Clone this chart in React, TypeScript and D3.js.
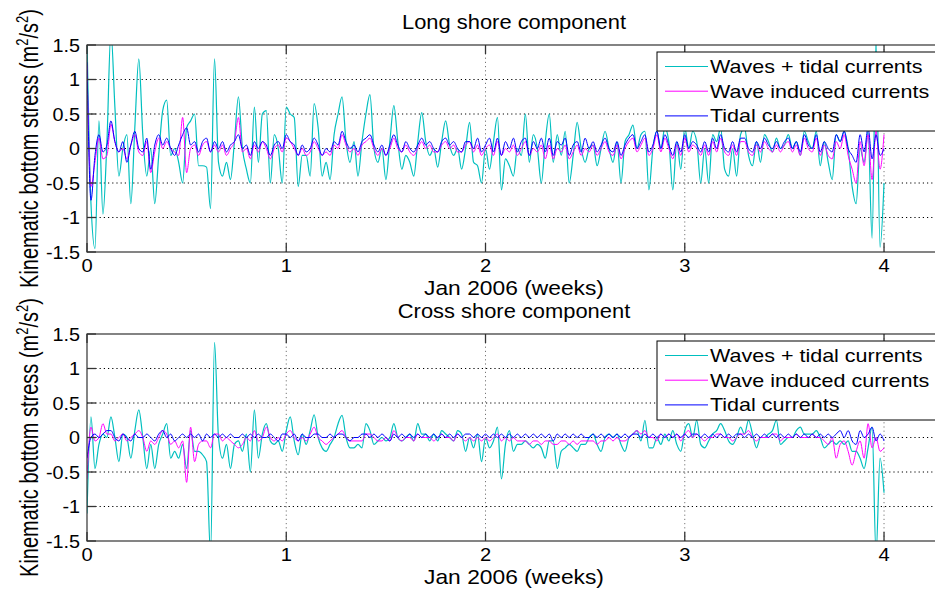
import React from 'react';
import * as d3 from 'd3';

// sampling step of the series (weeks)
const STEP = 0.02;

const xTicks = [0, 1, 2, 3, 4];
const yTicks = [-1.5, -1, -0.5, 0, 0.5, 1, 1.5];
const yGrid = [-1, -0.5, 0, 0.5, 1];
const xGrid = [1, 2, 3, 4];

const legendLabels = ['Waves + tidal currents', 'Wave induced currents', 'Tidal currents'];
const seriesColors = ['#00bfbf', '#ff00ff', '#0000ff'];

// Long shore component
const longWaveTidal = [
  1.6, -0.8, -1.45, 0.4, -0.95, 0.1, 1.7, 0.6, -0.4, 0.0,
  0.2, -0.8, 0.3, 1.3, 0.2, -0.4, 0.0, -0.8, -0.1, 0.55,
  0.7, -0.1, 0.0, -0.2, -0.5, 0.3, 0.4, 0.5, -0.25, -0.25,
  -0.27, -0.87, 1.3, -0.2, -0.4, -0.2, -0.45, 0.1, 0.75, 0.0,
  -0.3, -0.5, 0.6, -0.2, 0.5, 0.55, -0.5, 0.2, 0.0, -0.5,
  0.6, 0.5, 0.45, -0.55, -0.1, -0.1, -0.4, 0.65, 0.3, -0.4,
  -0.2, -0.45, 0.2, 0.5, 0.75, 0.1, -0.2, 0.1, -0.4, 0.1,
  0.5, 0.78, 0.0, -0.2, 0.0, -0.45, 0.1, 0.62, 0.1, -0.3,
  -0.1, -0.2, -0.4, 0.1, 0.52, 0.1, -0.1, 0.0, -0.27, 0.1,
  0.4, 0.05, -0.1, 0.0, -0.3, 0.0, 0.38, -0.2, -0.25, -0.5,
  0.0, -0.3, 0.1, 0.45, -0.6, -0.15, -0.25, -0.4, 0.0, -0.1,
  0.5, -0.2, 0.2, 0.0, -0.5, 0.1, 0.5, -0.2, 0.2, -0.1,
  0.25, -0.5, -0.1, 0.38, 0.0, -0.2, 0.0, 0.05, -0.25, 0.0,
  0.25, 0.0, -0.2, 0.1, -0.5, 0.1, 0.2, 0.34, 0.0, 0.2,
  0.25, -0.6, 0.0, 0.25, 0.0, 0.3, 0.1, -0.6, 0.1, -0.3,
  0.3, 0.0, 0.25, 0.1, -0.5, 0.0, -0.5, 0.2, 0.1, 0.3,
  -0.3, -0.4, 0.0, -0.4, 0.2, 0.3, -0.1, -0.25, 0.1, -0.2,
  0.2, 0.1, -0.05, 0.15, 0.0, 0.05, 0.2, 0.0, 0.1, -0.1,
  0.25, 0.1, 0.0, 0.25, -0.25, 0.1, -0.2, -0.45, 0.2, 0.1,
  0.25, 0.0, -0.55, -0.8, 0.0, -0.2, 0.25, -1.3, 1.6, -1.43,
  -0.5,
];

const longWaveInduced = [
  1.2, -0.55, -0.2, 0.15, -0.15, -0.1, 0.35, 0.1, -0.05, 0.0,
  -0.15, 0.05, 0.2, -0.05, -0.1, 0.1, -0.35, -0.05, 0.15, 0.0,
  0.1, 0.0, -0.05, -0.1, 0.45, -0.35, 0.0, 0.05, -0.1, 0.05,
  0.1, -0.05, 0.05, -0.05, 0.05, -0.1, 0.0, 0.1, 0.45, -0.05,
  0.0, -0.15, 0.05, -0.05, 0.1, 0.0, -0.15, 0.0, 0.05, -0.05,
  0.15, 0.1, 0.0, -0.1, 0.0, -0.1, -0.05, 0.1, 0.0, -0.1,
  -0.05, -0.1, 0.05, 0.0, 0.2, 0.05, -0.05, 0.0, -0.1, 0.05,
  0.1, 0.15, 0.0, -0.1, 0.0, -0.1, 0.0, 0.15, 0.0, -0.05,
  0.05, -0.05, -0.1, 0.0, 0.1, 0.0, 0.05, -0.05, -0.05, 0.05,
  0.1, 0.0, 0.05, -0.05, -0.05, 0.05, 0.1, -0.05, 0.05, -0.1,
  0.0, 0.05, -0.1, 0.1, -0.1, 0.0, -0.05, 0.05, -0.1, 0.0,
  0.1, -0.1, 0.0, -0.05, 0.05, -0.15, 0.05, -0.15, 0.0, -0.05,
  0.05, -0.15, -0.05, 0.05, -0.1, 0.0, -0.05, 0.05, -0.1, 0.0,
  0.1, -0.05, -0.1, 0.05, -0.15, 0.0, 0.1, 0.15, -0.05, 0.05,
  0.15, -0.1, 0.0, 0.2, -0.05, 0.15, 0.0, -0.15, 0.05, -0.1,
  0.15, -0.05, 0.05, 0.0, -0.1, 0.05, -0.1, 0.1, -0.05, 0.15,
  -0.05, -0.1, 0.05, -0.1, 0.1, 0.1, -0.05, -0.1, 0.05, -0.05,
  0.1, 0.0, -0.05, 0.05, -0.05, 0.05, 0.1, -0.05, 0.05, -0.1,
  0.15, 0.0, -0.05, 0.15, -0.1, 0.05, -0.1, -0.15, 0.1, 0.0,
  0.2, -0.1, -0.3, -0.5, 0.1, -0.25, 0.2, -0.45, 0.25, -0.3,
  0.2,
];

const longTidal = [
  1.25, -0.75, -0.1, 0.2, -0.05, 0.05, 0.4, 0.1, -0.05, 0.1,
  -0.2, 0.05, 0.25, 0.0, -0.05, 0.15, -0.3, 0.05, 0.2, 0.05,
  0.15, 0.0, -0.1, 0.05, 0.2, 0.3, 0.05, 0.1, -0.05, 0.1,
  0.15, -0.05, 0.1, 0.0, 0.1, -0.05, 0.05, 0.1, 0.2, 0.0,
  0.05, -0.1, 0.1, 0.0, 0.1, 0.05, -0.1, 0.05, 0.1, 0.0,
  0.2, 0.1, 0.05, -0.1, 0.05, -0.05, 0.0, 0.15, 0.05, -0.1,
  0.0, -0.05, 0.1, 0.05, 0.25, 0.1, 0.0, 0.05, -0.05, 0.1,
  0.15, 0.2, 0.05, -0.05, 0.05, -0.1, 0.05, 0.2, 0.05, -0.05,
  0.1, 0.0, -0.05, 0.05, 0.15, 0.05, 0.1, 0.0, -0.05, 0.1,
  0.15, 0.05, 0.1, 0.0, -0.05, 0.1, 0.1, 0.0, 0.15, -0.05,
  0.05, 0.15, -0.05, 0.15, -0.1, 0.1, 0.0, 0.15, -0.05, 0.1,
  0.15, -0.1, 0.1, 0.0, 0.15, -0.05, 0.15, -0.1, 0.1, 0.05,
  0.15, -0.1, 0.05, 0.1, -0.05, 0.15, 0.0, 0.1, -0.05, 0.05,
  0.15, 0.0, -0.05, 0.1, -0.1, 0.05, 0.15, 0.2, 0.0, 0.1,
  0.2, -0.05, 0.05, 0.25, 0.0, 0.2, 0.05, -0.1, 0.1, -0.05,
  0.2, 0.0, 0.1, 0.05, -0.05, 0.1, -0.05, 0.15, 0.0, 0.2,
  0.0, -0.05, 0.1, -0.05, 0.15, 0.15, 0.0, -0.05, 0.1, 0.0,
  0.15, 0.05, 0.0, 0.1, 0.0, 0.1, 0.15, 0.0, 0.1, -0.05,
  0.2, 0.05, 0.0, 0.2, -0.05, 0.1, 0.0, -0.05, 0.2, 0.1,
  0.25, 0.0, -0.1, -0.2, 0.2, -0.05, 0.3, -0.15, 0.2, -0.1,
  0.0,
];

// Cross shore component
const crossWaveTidal = [
  -1.1, 0.3, -0.45, -0.1, 0.05, 0.0, 0.3, 0.0, -0.35, 0.05,
  0.0, -0.3, 0.1, 0.4, 0.0, -0.45, -0.1, -0.45, -0.1, 0.05,
  0.2, -0.3, -0.2, -0.3, -0.1, -0.45, 0.1, -0.2, -0.2, -0.25,
  -0.35, -1.7, 1.38, 0.0, -0.3, -0.1, -0.45, -0.1, -0.05, -0.2,
  0.05, -0.5, 0.4, -0.3, 0.05, 0.2, -0.05, -0.1, -0.05, -0.2,
  0.1, 0.3, -0.05, -0.25, 0.05, -0.1, 0.1, 0.33, 0.0, -0.15,
  -0.2, -0.1, 0.0, 0.2, 0.32, 0.0, -0.15, -0.15, -0.1, -0.15,
  0.2, 0.1, -0.1, -0.05, 0.0, -0.05, 0.0, 0.2, 0.0, -0.05,
  0.0, 0.05, -0.05, 0.2, 0.05, 0.05, -0.05, 0.05, -0.05, 0.1,
  0.05, 0.0, -0.05, 0.1, 0.05, -0.2, 0.0, -0.15, 0.05, -0.35,
  0.0, -0.15, -0.05, 0.15, -0.6, -0.1, 0.1, -0.2, -0.1, -0.1,
  -0.05, -0.1, -0.15, -0.1, -0.15, -0.3, -0.05, -0.05, -0.45, -0.2,
  -0.15, -0.1, -0.15, -0.2, -0.1, -0.1, 0.0, 0.05, -0.1, -0.2,
  0.0, 0.05, 0.0, 0.05, -0.1, -0.2, 0.0, 0.05, 0.1, -0.05,
  0.25, -0.15, -0.15, 0.0, -0.1, 0.05, -0.05, 0.1, -0.1, -0.2,
  0.1, 0.2, 0.0, 0.25, -0.1, -0.15, -0.05, 0.05, 0.1, 0.2,
  0.1, -0.05, -0.1, 0.0, 0.15, 0.05, 0.25, 0.05, -0.15, 0.0,
  0.0, 0.05, 0.1, 0.25, -0.1, -0.05, 0.0, 0.0, 0.1, 0.15,
  0.05, 0.05, 0.05, 0.1, 0.0, -0.15, -0.1, -0.05, -0.1, -0.05,
  -0.1, -0.05, -0.2, -0.2, -0.3, -0.45, -0.15, 0.15, -1.7, -0.3,
  -0.8,
];

const crossWaveInduced = [
  -0.6, 0.15, -0.05, 0.0, 0.2, 0.05, 0.05, -0.05, 0.0, 0.05,
  -0.05, 0.0, 0.05, 0.1, 0.0, -0.2, -0.05, -0.1, 0.0, 0.1,
  0.05, -0.1, -0.05, -0.15, -0.05, -0.65, 0.15, -0.35, -0.1, -0.05,
  -0.05, -0.15, 0.05, 0.05, -0.05, 0.0, -0.05, -0.1, -0.15, -0.1,
  0.0, -0.05, 0.1, -0.05, 0.0, 0.15, 0.0, -0.05, 0.0, -0.05,
  0.05, 0.1, 0.0, -0.05, 0.0, -0.05, 0.05, 0.15, 0.0, -0.05,
  -0.1, -0.05, 0.0, 0.05, 0.1, 0.0, -0.05, -0.05, -0.05, -0.05,
  0.05, 0.05, 0.0, -0.05, -0.05, 0.0, -0.05, 0.1, 0.0, -0.05,
  0.0, 0.0, -0.05, 0.05, 0.0, 0.0, 0.0, -0.05, 0.0, 0.05,
  0.0, 0.0, -0.05, 0.05, 0.0, -0.05, 0.0, -0.05, 0.0, -0.05,
  0.0, -0.05, 0.0, 0.05, -0.05, 0.0, -0.05, 0.0, -0.05, -0.05,
  -0.05, -0.1, -0.05, -0.05, -0.1, -0.05, -0.05, -0.1, -0.1, -0.05,
  -0.05, -0.1, -0.05, -0.1, -0.05, -0.05, -0.05, -0.05, -0.1, -0.05,
  -0.05, 0.0, -0.05, 0.0, -0.05, -0.05, 0.0, 0.05, 0.1, 0.05,
  0.1, 0.0, 0.0, -0.05, 0.05, 0.0, 0.05, 0.0, 0.05, -0.05,
  0.05, 0.1, 0.0, 0.05, 0.0, -0.05, 0.0, 0.0, 0.05, 0.05,
  0.0, 0.0, -0.05, 0.0, 0.05, 0.05, 0.1, 0.0, -0.05, 0.0,
  0.0, 0.0, 0.05, 0.05, -0.05, 0.0, 0.0, 0.0, 0.05, 0.0,
  0.0, 0.0, 0.05, 0.0, 0.0, -0.05, -0.1, 0.0, -0.3, -0.1,
  -0.05, -0.2, -0.4, -0.2, -0.05, -0.3, 0.2, -0.15, 0.0, -0.2,
  -0.15,
];

const crossTidal = [
  -0.3, 0.0, 0.05, 0.0, 0.05, 0.1, 0.1, 0.0, -0.05, 0.05,
  0.0, -0.05, 0.05, 0.0, 0.0, 0.05, 0.0, -0.05, 0.05, 0.1,
  0.0, 0.05, -0.05, 0.0, 0.05, 0.0, 0.05, 0.0, 0.05, -0.05,
  0.05, 0.0, 0.05, 0.0, 0.05, 0.0, 0.05, 0.0, 0.0, 0.05,
  0.0, 0.05, 0.0, 0.05, 0.0, 0.0, 0.05, 0.0, -0.05, 0.05,
  0.05, 0.0, 0.05, -0.05, 0.05, 0.0, 0.0, 0.05, 0.05, 0.0,
  0.0, 0.05, 0.0, 0.05, 0.05, 0.0, -0.05, 0.0, 0.0, 0.05,
  0.05, 0.0, 0.05, 0.0, 0.05, 0.0, -0.05, 0.05, 0.0, 0.05,
  0.0, 0.05, 0.0, 0.05, 0.0, 0.05, 0.0, 0.05, 0.0, 0.05,
  0.0, 0.05, 0.0, 0.05, 0.0, 0.05, 0.05, 0.0, 0.05, 0.0,
  0.05, 0.0, 0.05, 0.0, 0.05, 0.0, 0.05, 0.0, 0.05, 0.0,
  0.05, 0.0, 0.05, 0.0, 0.05, 0.0, 0.05, -0.05, 0.05, 0.0,
  0.05, 0.0, 0.05, 0.0, 0.05, 0.0, 0.0, 0.05, 0.0, 0.05,
  0.0, 0.05, 0.0, 0.05, 0.0, 0.05, 0.0, 0.05, 0.05, 0.0,
  0.05, 0.0, 0.05, 0.0, 0.05, 0.0, 0.05, 0.0, 0.05, 0.0,
  0.05, 0.0, 0.05, 0.05, 0.0, 0.05, 0.0, 0.05, 0.0, 0.05,
  0.0, 0.05, 0.0, 0.05, 0.05, 0.0, 0.05, 0.0, 0.05, 0.0,
  0.05, 0.0, 0.05, 0.0, 0.05, 0.0, 0.05, 0.0, 0.05, 0.0,
  0.05, 0.0, 0.05, 0.0, 0.05, 0.0, 0.05, 0.0, 0.05, 0.1,
  0.0, 0.1, -0.05, -0.1, 0.1, 0.0, 0.05, 0.15, -0.05, 0.05,
  -0.05,
];

const FONT = 'Liberation Sans, Arial, Helvetica, sans-serif';
const W = 935;
const H = 590;

const Label = ({ x, y, size, sx = 1, anchor = 'start', children }: any) => (
  <text
    transform={`translate(${x},${y}) scale(${sx},1)`}
    fontSize={size}
    fontFamily={FONT}
    textAnchor={anchor}
    fill="#000"
  >
    {children}
  </text>
);

const Panel = ({ top, bottom, title, series, id }: any) => {
  const x = d3.scaleLinear().domain([0, 4.3]).range([87, 943.8]);
  const y = d3.scaleLinear().domain([-1.5, 1.5]).range([bottom, top]);
  const line = d3.line<number>()
    .x((_, i) => x(i * STEP))
    .y(d => y(d))
    .curve(d3.curveMonotoneX);
  const left = x(0);
  const right = x(4.3);
  const midY = (top + bottom) / 2;

  // legend box
  const lgTop = top + 7;
  const lgLeft = 657;
  const rowH = 24.7;

  return (
    <g>
      <defs>
        <clipPath id={id}>
          <rect x={left} y={top} width={right - left} height={bottom - top} />
        </clipPath>
      </defs>
      <rect x={left} y={top} width={right - left} height={bottom - top} fill="#fff" />
      {/* grid */}
      {yGrid.map(v => (
        <line key={'gy' + v} x1={left} x2={right} y1={y(v)} y2={y(v)}
          stroke="#000" strokeWidth={1} strokeDasharray="1.2,3" />
      ))}
      {xGrid.map(v => (
        <line key={'gx' + v} x1={x(v)} x2={x(v)} y1={top} y2={bottom}
          stroke="#777" strokeWidth={1} strokeDasharray="1.2,3" />
      ))}
      {/* data */}
      <g clipPath={`url(#${id})`}>
        {series.map((s: number[], k: number) => (
          <path key={k} d={line(s) || ''} fill="none" stroke={seriesColors[k]}
            strokeWidth={k === 0 ? 1.2 : 1} />
        ))}
      </g>
      {/* ticks */}
      {xTicks.map(v => (
        <g key={'tx' + v}>
          <line x1={x(v)} x2={x(v)} y1={bottom} y2={bottom - 9} stroke="#333" strokeWidth={1.3} />
          <line x1={x(v)} x2={x(v)} y1={top} y2={top + 9} stroke="#333" strokeWidth={1.3} />
          <Label x={x(v)} y={bottom + 20} size={18} sx={1.12} anchor="middle">{String(v)}</Label>
        </g>
      ))}
      {yTicks.map(v => (
        <g key={'ty' + v}>
          <line x1={left} x2={left + 9} y1={y(v)} y2={y(v)} stroke="#333" strokeWidth={1.3} />
          <Label x={80} y={y(v) + 6.5} size={18} sx={1.1} anchor="end">{String(v)}</Label>
        </g>
      ))}
      {/* frame */}
      <rect x={left} y={top} width={right - left} height={bottom - top} fill="none" stroke="#333" strokeWidth={1.2} />
      {/* title and axis labels */}
      <Label x={514} y={top - 16} size={20} sx={1.095} anchor="middle">{title}</Label>
      <Label x={514} y={bottom + 43} size={20} sx={1.14} anchor="middle">Jan 2006 (weeks)</Label>
      <text
        transform={`translate(38,${midY}) scale(1.25,1) rotate(-90)`}
        fontSize={20}
        fontFamily={FONT}
        textAnchor="middle"
        fill="#000"
      >
        Kinematic bottom stress (m
        <tspan fontSize={13} dy={-8}>2</tspan>
        <tspan dy={8}>/s</tspan>
        <tspan fontSize={13} dy={-8}>2</tspan>
        <tspan dy={8}>)</tspan>
      </text>
      {/* legend */}
      <rect x={lgLeft} y={lgTop} width={300} height={79} fill="#fff" stroke="#000" strokeWidth={1} />
      {legendLabels.map((lab, k) => (
        <g key={lab}>
          <line x1={665} x2={708} y1={lgTop + 14.5 + k * rowH} y2={lgTop + 14.5 + k * rowH}
            stroke={seriesColors[k]} strokeWidth={1} />
          <Label x={710} y={lgTop + 21 + k * rowH} size={18} sx={1.195}>{lab}</Label>
        </g>
      ))}
    </g>
  );
};

export default function App() {
  return (
    <svg width={W} height={H} style={{ position: 'absolute', left: 0, top: 0, background: '#fff' }}>
      <rect x={0} y={0} width={W} height={H} fill="#fff" />
      <Panel top={45} bottom={252} title="Long shore component" id="clipLong"
        series={[longWaveTidal, longWaveInduced, longTidal]} />
      <Panel top={334} bottom={541} title="Cross shore component" id="clipCross"
        series={[crossWaveTidal, crossWaveInduced, crossTidal]} />
    </svg>
  );
}
